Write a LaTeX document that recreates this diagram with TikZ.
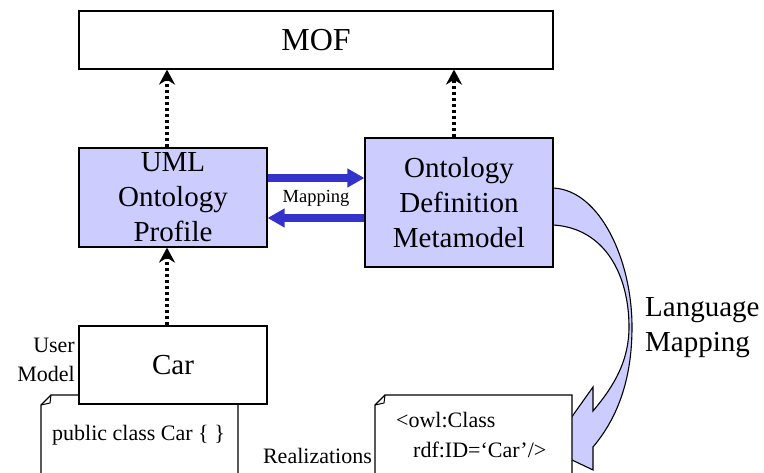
\documentclass[tikz,border=0pt]{standalone}
\usepackage{fontspec}
\setmainfont{Liberation Serif}
\usetikzlibrary{arrows.meta}
\definecolor{lav}{HTML}{CCCCFF}
\definecolor{mapblue}{HTML}{3333CC}
\begin{document}
\begin{tikzpicture}[x=1pt,y=-1pt,
  box/.style={draw=black, line width=1.2pt, inner sep=0pt, align=center},
  bigtext/.style={font=\fontsize{29}{35}\selectfont},
  dotarrow/.style={line width=3.5pt, dash pattern=on 3pt off 3pt, -{Stealth[length=15pt,width=16pt]}},
  maparrow/.style={mapblue, line width=8pt, -{Triangle[length=17pt,width=18pt]}},
  notebox/.style={draw=black, line width=1.2pt, fill=white},
  midtext/.style={font=\fontsize{22}{29}\selectfont, inner sep=0pt}
]
\useasboundingbox (0,0) rectangle (764,473);

% curved language-mapping arrow
\draw[line width=1.1pt, fill=lav, line join=miter]
  (553,188) .. controls (600,190) and (632,260) .. (632,327)
  .. controls (632,375) and (620,415) .. (593,447)
  -- (593,470) -- (549,449) -- (593,387) -- (593,411)
  .. controls (615,385) and (629,360) .. (629,327)
  .. controls (629,275) and (605,228) .. (553,225) -- cycle;

% boxes
\node[box, fill=white, minimum width=474pt, minimum height=58pt, font=\fontsize{32}{38}\selectfont] (mof) at (316,40) {MOF};
\node[box, fill=lav, bigtext, minimum width=188pt, minimum height=99pt] (uml) at (173,197.5) {UML\\Ontology\\Profile};
\node[box, fill=lav, bigtext, minimum width=188pt, minimum height=129pt] (odm) at (459,202.5) {Ontology\\Definition\\Metamodel};

% code note (user model)
\draw[notebox] (41,480) -- (41,405) -- (51,395) -- (238,395) -- (238,480);
\draw[line width=1pt] (41,405) -- (50,403) -- (51,395);
\node[midtext, anchor=base west] (javacode) at (52,440) {public class Car \{ \}};

% owl note
\draw[notebox] (375,480) -- (375,405) -- (385,395) -- (572,395) -- (572,480);
\draw[line width=1pt] (375,405) -- (384,403) -- (385,395);
\node[midtext, anchor=base west] (owl1) at (396,428) {<owl:Class};
\node[midtext, anchor=base west] (owl2) at (413,457) {rdf:ID=‘Car’/>};

% car box
\node[box, fill=white, bigtext, minimum width=188pt, minimum height=78pt] (car) at (173,365) {Car};

% labels
\node[midtext, align=right, anchor=east] (usermodel) at (75,360) {User\\Model};
\node[midtext, anchor=base east] (realiz) at (372,463) {Realizations};
\node[inner sep=0pt, align=left, anchor=west, font=\fontsize{29}{35}\selectfont] (langmap) at (645,328) {Language\\Mapping};
\node[inner sep=0pt, anchor=base, font=\fontsize{18.5}{22}\selectfont] (maplabel) at (316,203) {Mapping};

% dotted dependency arrows
\draw[dotarrow] ([xshift=-6pt]uml.north) -- ([xshift=-6pt]uml.north |- mof.south);
\draw[dotarrow] ([xshift=-5pt]odm.north) -- ([xshift=-5pt]odm.north |- mof.south);
\draw[dotarrow] ([xshift=-6pt]car.north) -- ([xshift=-6pt]car.north |- uml.south);

% mapping arrows
\draw[maparrow] (uml.east |- 0,178) -- (odm.west |- 0,178);
\draw[maparrow] (odm.west |- 0,218) -- (uml.east |- 0,218);
\end{tikzpicture}
\end{document}
